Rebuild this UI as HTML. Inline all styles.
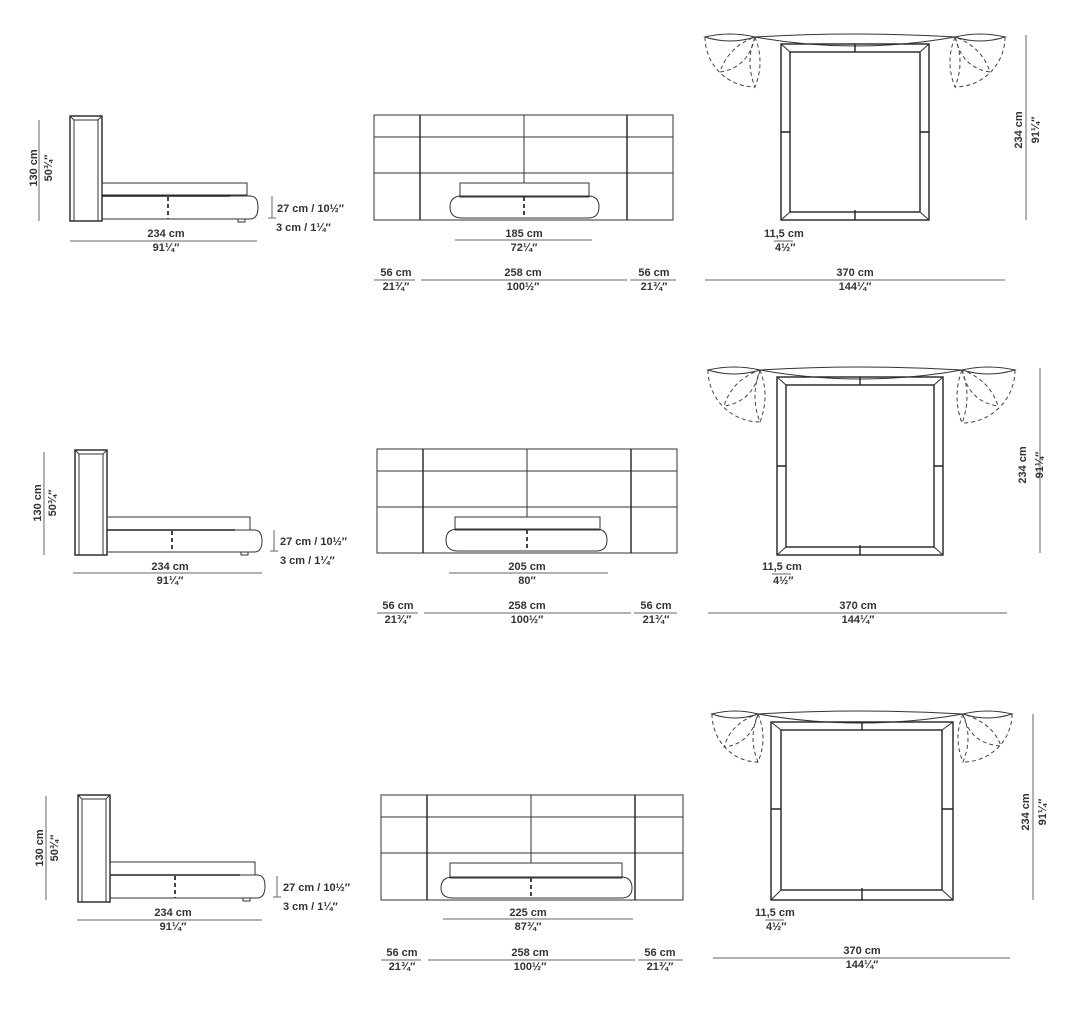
<!DOCTYPE html>
<html><head><meta charset="utf-8"><style>
html,body{margin:0;padding:0;background:#fff;width:1071px;height:1016px;overflow:hidden}
svg{display:block}
text{font-family:"Liberation Sans",sans-serif;font-size:11px;font-weight:bold;fill:#333}
.l{stroke:#333;stroke-width:1;fill:none}
.t{stroke:#222;stroke-width:1.4;fill:none}
.d{stroke:#444;stroke-width:1;fill:none;stroke-dasharray:4,3}
.g{stroke:#666;stroke-width:1;fill:none}
</style></head><body>
<svg width="1071" height="1016" viewBox="0 0 1071 1016" xmlns="http://www.w3.org/2000/svg">

<!-- ========== ROW 1 ========== -->
<g>
<rect class="t" x="70" y="116" width="32" height="105"/>
<path class="l" d="M70,116 L74,120 L98,120 L102,116 M74,120 L74,221 M98,120 L98,221"/>
<rect class="l" x="102" y="183" width="145" height="12"/>
<path class="l" d="M102,196 L250,196 Q258,196 258,207 Q258,219 250,219 L102,219"/>
<line class="t" x1="102" y1="196" x2="230" y2="196"/>
<line class="d" x1="168" y1="197" x2="168" y2="219" style="stroke-width:2"/>
<rect class="l" x="238" y="219" width="7" height="3"/>
<line class="g" x1="39" y1="120" x2="39" y2="221"/>
<text transform="translate(37,168) rotate(-90)" text-anchor="middle">130 cm</text>
<text transform="translate(52,168) rotate(-90)" text-anchor="middle">50¾″</text>
<line class="g" x1="70" y1="241" x2="257" y2="241"/>
<text x="166" y="237" text-anchor="middle">234 cm</text>
<text x="166" y="251" text-anchor="middle">91¼″</text>
<line class="g" x1="272" y1="196" x2="272" y2="218"/>
<line class="g" x1="268" y1="218" x2="276" y2="218"/>
<text x="277" y="212">27 cm / 10½″</text>
<text x="276" y="231">3 cm / 1¼″</text>
</g>
<g>
<rect class="l" x="374" y="115" width="299" height="105"/>
<line class="l" x1="374" y1="137" x2="673" y2="137"/>
<line class="l" x1="374" y1="173" x2="673" y2="173"/>
<line class="t" x1="420" y1="115" x2="420" y2="220"/>
<line class="t" x1="627" y1="115" x2="627" y2="220"/>
<line class="l" x1="524" y1="115" x2="524" y2="183"/>
<rect x="449" y="183" width="152" height="36" fill="#fff"/>
<rect class="l" x="460" y="183" width="129" height="14"/>
<path class="l" d="M462,196 L588,196 Q599,196 599,207 Q599,218 588,218 L462,218 Q450,218 450,207 Q450,196 462,196Z"/>
<line class="d" x1="524" y1="197" x2="524" y2="218" style="stroke-width:2"/>
<line class="g" x1="455" y1="240" x2="592" y2="240"/>
<text x="524" y="237" text-anchor="middle">185 cm</text>
<text x="524" y="251" text-anchor="middle">72¼″</text>
<line class="g" x1="374" y1="280" x2="415" y2="280"/>
<line class="g" x1="421" y1="280" x2="627" y2="280"/>
<line class="g" x1="630" y1="280" x2="676" y2="280"/>
<text x="396" y="276" text-anchor="middle">56 cm</text><text x="396" y="290" text-anchor="middle">21¾″</text>
<text x="523" y="276" text-anchor="middle">258 cm</text><text x="523" y="290" text-anchor="middle">100½″</text>
<text x="654" y="276" text-anchor="middle">56 cm</text><text x="654" y="290" text-anchor="middle">21¾″</text>
</g>
<g>
<rect class="t" x="781" y="44" width="148" height="176"/>
<rect class="t" x="790" y="52" width="130" height="160"/>
<path class="l" d="M781,44 L790,52 M929,44 L920,52 M781,220 L790,212 M929,220 L920,212"/>
<path class="l" d="M755,37 Q855,31 955,37 Q855,55 755,37Z"/>
<path class="l" d="M705,37 Q730,31 755,37 Q730,45 705,37Z"/>
<path class="l" d="M1005,37 Q980,31 955,37 Q980,45 1005,37Z"/>
<path class="d" d="M705,37 A50,50 0 0 0 755,87"/>
<path class="d" d="M755,37 Q765,62 755,87 Q745,62 755,37"/>
<path class="d" d="M755,37 Q748,68 720,72 Q728,47 755,37"/>
<path class="d" d="M1005,37 A50,50 0 0 1 955,87"/>
<path class="d" d="M955,37 Q945,62 955,87 Q965,62 955,37"/>
<path class="d" d="M955,37 Q962,68 990,72 Q982,47 955,37"/>
<path class="t" d="M855,210 L855,220 M855,44 L855,52 M781,132 L790,132 M920,132 L929,132"/>
<line class="g" x1="1026" y1="35" x2="1026" y2="220"/>
<text transform="translate(1022,130) rotate(-90)" text-anchor="middle">234 cm</text>
<text transform="translate(1039,130) rotate(-90)" text-anchor="middle">91¼″</text>
<text x="764" y="237">11,5 cm</text>
<line class="g" x1="774" y1="241" x2="793" y2="241"/>
<text x="775" y="251">4½″</text>
<line class="g" x1="705" y1="280" x2="1005" y2="280"/>
<text x="855" y="276" text-anchor="middle">370 cm</text>
<text x="855" y="290" text-anchor="middle">144¼″</text>
</g>

<!-- ========== ROW 2 ========== -->
<g>
<rect class="t" x="75" y="450" width="32" height="105"/>
<path class="l" d="M75,450 L79,454 L103,454 L107,450 M79,454 L79,555 M103,454 L103,555"/>
<rect class="l" x="107" y="517" width="143" height="13"/>
<path class="l" d="M107,530 L254,530 Q262,530 262,541 Q262,552 254,552 L107,552"/>
<line class="t" x1="107" y1="530" x2="235" y2="530"/>
<line class="d" x1="172" y1="531" x2="172" y2="552" style="stroke-width:2"/>
<rect class="l" x="241" y="552" width="7" height="3"/>
<line class="g" x1="44" y1="452" x2="44" y2="555"/>
<text transform="translate(41,503) rotate(-90)" text-anchor="middle">130 cm</text>
<text transform="translate(56,503) rotate(-90)" text-anchor="middle">50¾″</text>
<line class="g" x1="73" y1="573" x2="262" y2="573"/>
<text x="170" y="570" text-anchor="middle">234 cm</text>
<text x="170" y="584" text-anchor="middle">91¼″</text>
<line class="g" x1="274" y1="530" x2="274" y2="551"/>
<line class="g" x1="270" y1="551" x2="278" y2="551"/>
<text x="280" y="545">27 cm / 10½″</text>
<text x="280" y="564">3 cm / 1¼″</text>
</g>
<g>
<rect class="l" x="377" y="449" width="300" height="104"/>
<line class="l" x1="377" y1="471" x2="677" y2="471"/>
<line class="l" x1="377" y1="507" x2="677" y2="507"/>
<line class="t" x1="423" y1="449" x2="423" y2="553"/>
<line class="t" x1="631" y1="449" x2="631" y2="553"/>
<line class="l" x1="527" y1="449" x2="527" y2="517"/>
<rect x="445" y="517" width="164" height="35" fill="#fff"/>
<rect class="l" x="455" y="517" width="145" height="13"/>
<path class="l" d="M458,529 L596,529 Q607,529 607,540 Q607,551 596,551 L458,551 Q446,551 446,540 Q446,529 458,529Z"/>
<line class="d" x1="527" y1="530" x2="527" y2="551" style="stroke-width:2"/>
<line class="g" x1="449" y1="573" x2="608" y2="573"/>
<text x="527" y="570" text-anchor="middle">205 cm</text>
<text x="527" y="584" text-anchor="middle">80″</text>
<line class="g" x1="377" y1="613" x2="418" y2="613"/>
<line class="g" x1="424" y1="613" x2="631" y2="613"/>
<line class="g" x1="634" y1="613" x2="677" y2="613"/>
<text x="398" y="609" text-anchor="middle">56 cm</text><text x="398" y="623" text-anchor="middle">21¾″</text>
<text x="527" y="609" text-anchor="middle">258 cm</text><text x="527" y="623" text-anchor="middle">100½″</text>
<text x="656" y="609" text-anchor="middle">56 cm</text><text x="656" y="623" text-anchor="middle">21¾″</text>
</g>
<g>
<rect class="t" x="777" y="377" width="166" height="178"/>
<rect class="t" x="786" y="385" width="148" height="162"/>
<path class="l" d="M777,377 L786,385 M943,377 L934,385 M777,555 L786,547 M943,555 L934,547"/>
<path class="l" d="M760,370 Q861,364 962,370 Q861,388 760,370Z"/>
<path class="l" d="M708,370 Q734,364 760,370 Q734,378 708,370Z"/>
<path class="l" d="M1015,370 Q988,364 962,370 Q988,378 1015,370Z"/>
<path class="d" d="M708,370 A52,52 0 0 0 760,422"/>
<path class="d" d="M760,370 Q770,396 760,422 Q750,396 760,370"/>
<path class="d" d="M760,370 Q753,402 724,406 Q732,380 760,370"/>
<path class="d" d="M1015,370 A53,53 0 0 1 962,423"/>
<path class="d" d="M962,370 Q952,396 962,423 Q972,396 962,370"/>
<path class="d" d="M962,370 Q969,402 998,406 Q990,380 962,370"/>
<path class="t" d="M860,545 L860,555 M860,377 L860,385 M777,466 L786,466 M934,466 L943,466"/>
<line class="g" x1="1040" y1="368" x2="1040" y2="553"/>
<text transform="translate(1026,465) rotate(-90)" text-anchor="middle">234 cm</text>
<text transform="translate(1043,465) rotate(-90)" text-anchor="middle">91¼″</text>
<text x="762" y="570">11,5 cm</text>
<line class="g" x1="772" y1="574" x2="791" y2="574"/>
<text x="773" y="584">4½″</text>
<line class="g" x1="708" y1="613" x2="1007" y2="613"/>
<text x="858" y="609" text-anchor="middle">370 cm</text>
<text x="858" y="623" text-anchor="middle">144¼″</text>
</g>

<!-- ========== ROW 3 ========== -->
<g>
<rect class="t" x="78" y="795" width="32" height="107"/>
<path class="l" d="M78,795 L82,799 L106,799 L110,795 M82,799 L82,902 M106,799 L106,902"/>
<rect class="l" x="110" y="862" width="145" height="13"/>
<path class="l" d="M110,875 L257,875 Q265,875 265,886 Q265,898 257,898 L110,898"/>
<line class="t" x1="110" y1="875" x2="240" y2="875"/>
<line class="d" x1="175" y1="876" x2="175" y2="898" style="stroke-width:2"/>
<rect class="l" x="243" y="898" width="7" height="3"/>
<line class="g" x1="46" y1="796" x2="46" y2="900"/>
<text transform="translate(43,848) rotate(-90)" text-anchor="middle">130 cm</text>
<text transform="translate(58,848) rotate(-90)" text-anchor="middle">50¾″</text>
<line class="g" x1="77" y1="920" x2="262" y2="920"/>
<text x="173" y="916" text-anchor="middle">234 cm</text>
<text x="173" y="930" text-anchor="middle">91¼″</text>
<line class="g" x1="277" y1="876" x2="277" y2="897"/>
<line class="g" x1="273" y1="897" x2="281" y2="897"/>
<text x="283" y="891">27 cm / 10½″</text>
<text x="283" y="910">3 cm / 1¼″</text>
</g>
<g>
<rect class="l" x="381" y="795" width="302" height="105"/>
<line class="l" x1="381" y1="817" x2="683" y2="817"/>
<line class="l" x1="381" y1="853" x2="683" y2="853"/>
<line class="t" x1="427" y1="795" x2="427" y2="900"/>
<line class="t" x1="635" y1="795" x2="635" y2="900"/>
<line class="l" x1="531" y1="795" x2="531" y2="863"/>
<rect x="440" y="863" width="194" height="36" fill="#fff"/>
<rect class="l" x="450" y="863" width="172" height="15"/>
<path class="l" d="M453,877 L621,877 Q632,877 632,888 Q632,898 621,898 L453,898 Q441,898 441,888 Q441,877 453,877Z"/>
<line class="d" x1="531" y1="878" x2="531" y2="898" style="stroke-width:2"/>
<line class="g" x1="443" y1="919" x2="633" y2="919"/>
<text x="528" y="916" text-anchor="middle">225 cm</text>
<text x="528" y="930" text-anchor="middle">87¾″</text>
<line class="g" x1="381" y1="960" x2="421" y2="960"/>
<line class="g" x1="428" y1="960" x2="635" y2="960"/>
<line class="g" x1="638" y1="960" x2="683" y2="960"/>
<text x="402" y="956" text-anchor="middle">56 cm</text><text x="402" y="970" text-anchor="middle">21¾″</text>
<text x="530" y="956" text-anchor="middle">258 cm</text><text x="530" y="970" text-anchor="middle">100½″</text>
<text x="660" y="956" text-anchor="middle">56 cm</text><text x="660" y="970" text-anchor="middle">21¾″</text>
</g>
<g>
<rect class="t" x="771" y="722" width="182" height="178"/>
<rect class="t" x="781" y="730" width="161" height="160"/>
<path class="l" d="M771,722 L781,730 M953,722 L942,730 M771,900 L781,890 M953,900 L942,890"/>
<path class="l" d="M758,714 Q860,708 963,714 Q860,732 758,714Z"/>
<path class="l" d="M712,714 Q735,708 758,714 Q735,722 712,714Z"/>
<path class="l" d="M1012,714 Q987,708 963,714 Q987,722 1012,714Z"/>
<path class="d" d="M712,714 A46,48 0 0 0 758,762"/>
<path class="d" d="M758,714 Q768,738 758,762 Q748,738 758,714"/>
<path class="d" d="M758,714 Q751,744 724,747 Q731,723 758,714"/>
<path class="d" d="M1012,714 A49,48 0 0 1 963,762"/>
<path class="d" d="M963,714 Q953,738 963,762 Q973,738 963,714"/>
<path class="d" d="M963,714 Q970,744 1001,746 Q993,723 963,714"/>
<path class="t" d="M862,888 L862,900 M862,722 L862,730 M771,809 L781,809 M942,809 L953,809"/>
<line class="g" x1="1033" y1="714" x2="1033" y2="900"/>
<text transform="translate(1029,812) rotate(-90)" text-anchor="middle">234 cm</text>
<text transform="translate(1046,812) rotate(-90)" text-anchor="middle">91¼″</text>
<text x="755" y="916">11,5 cm</text>
<line class="g" x1="765" y1="920" x2="784" y2="920"/>
<text x="766" y="930">4½″</text>
<line class="g" x1="713" y1="958" x2="1010" y2="958"/>
<text x="862" y="954" text-anchor="middle">370 cm</text>
<text x="862" y="968" text-anchor="middle">144¼″</text>
</g>
</svg>
</body></html>
